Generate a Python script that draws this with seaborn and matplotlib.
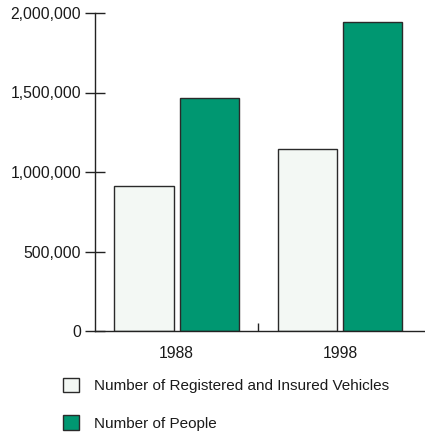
import matplotlib
matplotlib.use("Agg")
import matplotlib.pyplot as plt
import seaborn as sns
import pandas as pd
from matplotlib.ticker import FuncFormatter

years = ["1988", "1998"]
series_names = ["Number of Registered and Insured Vehicles", "Number of People"]
vehicles = [914000, 1145000]
people = [1467000, 1945000]
y_ticks = [0, 500000, 1000000, 1500000, 2000000]

df = pd.DataFrame({
    "year": years * 2,
    "series": [series_names[0]] * len(years) + [series_names[1]] * len(years),
    "value": vehicles + people,
})

sns.set_style("white")
plt.rcParams["font.family"] = ["Liberation Sans", "DejaVu Sans"]

fig = plt.figure(figsize=(4.25, 4.33), dpi=100)
ax = fig.add_axes([95 / 425, 1 - 331 / 433, 1 - 95 / 425, (331 - 13) / 433])

palette = {series_names[0]: "#f3f8f4", series_names[1]: "#009771"}
sns.barplot(data=df, x="year", y="value", hue="series", order=years,
            hue_order=series_names, palette=palette, width=0.8, gap=0.09,
            edgecolor="#2a2a2a", linewidth=1.0, saturation=1, ax=ax, errorbar=None)

ax.set_ylim(0, 2000000)
ax.set_xlim(-0.5, 1.52)
ax.set_yticks(y_ticks)
ax.yaxis.set_major_formatter(FuncFormatter(lambda v, p: f"{int(v):,}"))
ax.tick_params(axis="y", left=True, direction="inout", length=14, width=1, color="#222222",
               labelsize=11.3, pad=3, labelcolor="#1a1a1a")
ax.set_xticks([0, 1])
ax.set_xticklabels(years)
ax.tick_params(axis="x", which="major", bottom=True, length=0, labelsize=11.3, pad=11,
               labelcolor="#1a1a1a")
ax.set_xticks([0.5], minor=True)
ax.tick_params(axis="x", which="minor", bottom=True, direction="in", length=6, width=1,
               color="#222222")
ax.set_xlabel("")
ax.set_ylabel("")
for s in ["top", "right"]:
    ax.spines[s].set_visible(False)
for s in ["left", "bottom"]:
    ax.spines[s].set_color("#222222")
    ax.spines[s].set_linewidth(1.0)

handles, labels = ax.get_legend_handles_labels()
ax.get_legend().remove()
leg = fig.legend(handles, labels, loc="upper left", bbox_to_anchor=(63 / 425, 1 - 378 / 433),
                 frameon=False, fontsize=11, handlelength=1.05, handleheight=1.05,
                 handletextpad=0.95, labelspacing=1.45, borderaxespad=0, borderpad=0)
for t in leg.get_texts():
    t.set_color("#1a1a1a")

fig.savefig("out.png", dpi=100)
